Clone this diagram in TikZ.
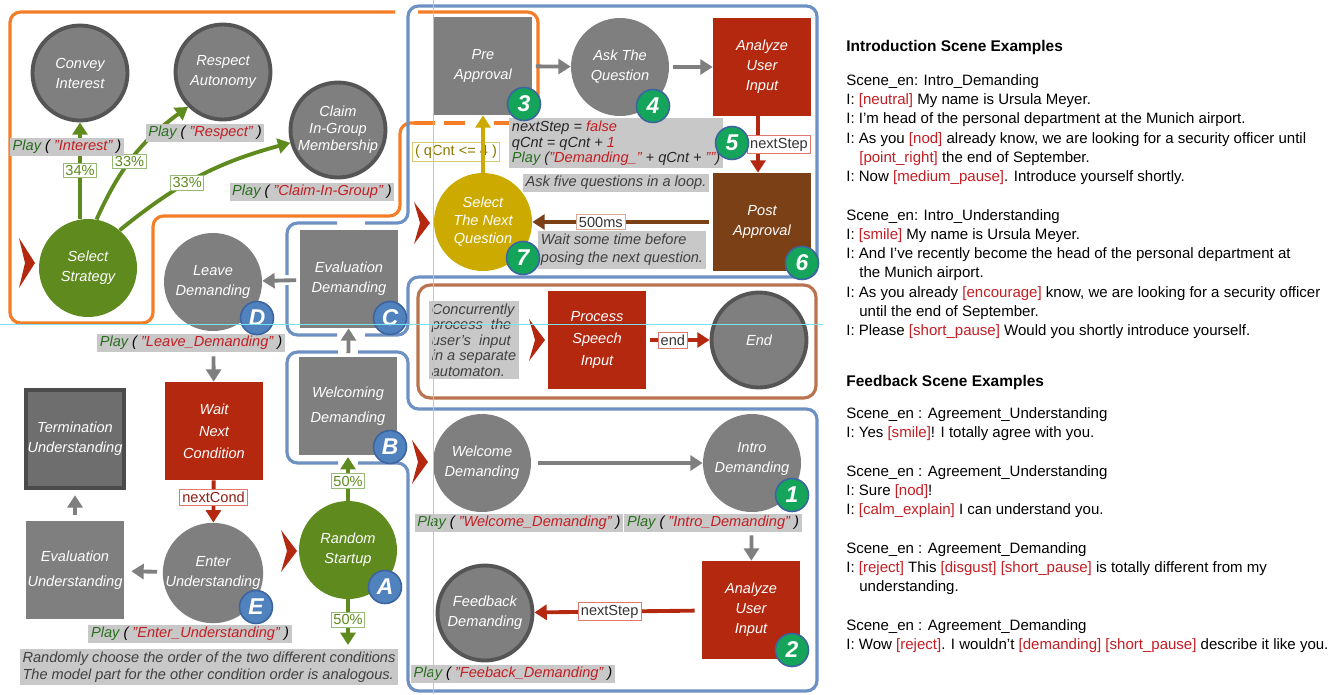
\documentclass[tikz,border=0pt]{standalone}
\usepackage{fontspec}
\setmainfont{Liberation Sans}
\usetikzlibrary{arrows.meta}

\definecolor{stgray}{RGB}{127,127,127}
\definecolor{stedge}{RGB}{85,85,85}
\definecolor{termgray}{RGB}{110,110,110}
\definecolor{termedge}{RGB}{75,75,75}
\definecolor{stred}{RGB}{180,40,15}
\definecolor{stbrown}{RGB}{124,64,22}
\definecolor{styellow}{RGB}{204,170,0}
\definecolor{stgreen}{RGB}{94,138,30}
\definecolor{frameorange}{RGB}{245,125,40}
\definecolor{frameblue}{RGB}{110,145,195}
\definecolor{framebrown}{RGB}{185,115,80}
\definecolor{badgeblue}{RGB}{80,130,190}
\definecolor{badgeedge}{RGB}{60,100,160}
\definecolor{badgegreen}{RGB}{20,165,90}
\definecolor{notegray}{RGB}{200,200,200}
\definecolor{notetext}{RGB}{64,64,64}
\definecolor{playgreen}{RGB}{40,110,30}
\definecolor{playred}{RGB}{195,30,35}
\definecolor{pctedge}{RGB}{150,185,120}
\definecolor{condedge}{RGB}{225,120,110}
\definecolor{condtext}{RGB}{140,30,20}
\definecolor{qcntedge}{RGB}{220,200,110}
\definecolor{qcnttext}{RGB}{140,120,0}
\definecolor{guidecyan}{RGB}{120,225,235}

\newcommand{\playlbl}[1]{\textcolor{playgreen}{Play} ( \textcolor{playred}{"#1"} )}
\newcommand{\cue}[1]{\textcolor{playred}{[#1]}}

\tikzset{
  sttext/.style={text=white, align=center, inner sep=0pt,
    font=\fontsize{8.3}{11.4}\selectfont\itshape},
  circstate/.style={sttext, circle, fill=stgray, minimum size=1.96cm},
  ringstate/.style={circstate, draw=stedge, line width=2.2pt, minimum size=1.9cm},
  boxstate/.style={sttext, rectangle, fill=stgray, minimum size=1.96cm},
  badge/.style={circle, fill=badgeblue, draw=badgeedge, line width=0.9pt,
    minimum size=0.66cm, inner sep=0pt, text=white,
    font=\fontsize{13}{13}\selectfont\bfseries\itshape},
  numbadge/.style={badge, fill=badgegreen},
  playtag/.style={fill=notegray, inner sep=1.5pt, font=\fontsize{8.3}{10}\selectfont\itshape},
  notebox/.style={fill=notegray, inner sep=1.5pt, text=notetext, align=left,
    font=\fontsize{8.3}{9.6}\selectfont\itshape},
  codebox/.style={fill=notegray, inner sep=1.5pt, text=black!85, align=left,
    font=\fontsize{8.3}{8.9}\selectfont\itshape},
  pct/.style={fill=white, draw=pctedge, line width=0.5pt, inner sep=1.2pt,
    font=\fontsize{8.3}{10}\selectfont},
  condlbl/.style={fill=white, draw=condedge, line width=0.5pt, inner sep=1.5pt,
    font=\fontsize{8.3}{10}\selectfont},
  flow/.style={line width=2.2pt, -{Triangle[length=7pt,width=8.5pt]}},
  zoomframe/.style={line width=1.8pt, rounded corners=6pt},
  guideline/.style={guidecyan, line width=0.4pt},
  panel/.style={anchor=north west, align=left, inner sep=0pt,
    font=\fontsize{8.55}{10.96}\selectfont},
  panelhead/.style={anchor=west, inner sep=0pt, font=\fontsize{8.8}{10.96}\selectfont\bfseries},
}

\begin{document}
\begin{tikzpicture}[x=0.02cm, y=-0.02cm]
  \useasboundingbox (0,0) rectangle (1341,694);
  \fill[white] (0,0) rectangle (1341,694);

  % Molduras
  \draw[zoomframe, frameorange] (395,12) -- (10,12) -- (10,323) -- (153,323) -- (153,216) -- (400,216) -- (400,123) -- (414,123);
  \draw[zoomframe, frameorange] (418,12) -- (538,12) -- (538,100);
  \draw[frameorange, line width=1.8pt, dash pattern=on 12pt off 5pt] (414,123) -- (472,123);
  \draw[frameorange, line width=1.8pt] (494,123) -- (518,123);
  \draw[zoomframe, frameblue] (365,223) -- (408,223) -- (408,6) -- (817,6) -- (817,277) -- (408,277) -- (408,335) -- (365,335);
  \draw[zoomframe, frameblue] (337,335) -- (287,335) -- (287,285);
  \draw[zoomframe, frameblue] (287,275) -- (287,223) -- (337,223);
  \draw[zoomframe, frameblue] (358,352) -- (408,352) -- (408,409) -- (817,409) -- (817,691) -- (408,691) -- (408,463) -- (358,463);
  \draw[zoomframe, frameblue] (338,463) -- (287,463) -- (287,352) -- (338,352);
  \draw[zoomframe, framebrown, rounded corners=7pt] (418,285) rectangle (816,398);

  % Nós
  \node[ringstate] (convey) at (80,73) {Convey\\Interest};
  \node[ringstate] (respect) at (223,72) {Respect\\Autonomy};
  \node[ringstate, font=\fontsize{8.3}{9.8}\selectfont\itshape] (claim) at (338,130) {Claim\\In-Group\\Membership};
  \node[circstate, fill=stgreen] (strategy) at (88,268) {Select\\Strategy};
  \node[circstate] (leave) at (213,282) {Leave\\Demanding};
  \node[boxstate] (evaldem) at (349,279) {Evaluation\\Demanding};
  \node[boxstate] (welcdem) at (348,406) {Welcoming\\[3pt]Demanding};
  \node[circstate, fill=stgreen] (random) at (348,550) {Random\\Startup};
  \node[boxstate, fill=stred] (waitnext) at (214,431) {Wait\\[1pt]Next\\[1pt]Condition};
  \node[circstate] (enterund) at (213,573) {Enter\\Understanding};
  \node[boxstate] (evalund) at (75,570) {Evaluation\\[3pt]Understanding};
  \node[boxstate, fill=termgray, draw=termedge, line width=2.5pt, minimum size=1.95cm] (termund) at (75,439) {Termination\\Understanding};

  \node[boxstate] (preappr) at (483,66) {Pre\\Approval};
  \node[circstate] (askq) at (620,67) {Ask The\\Question};
  \node[boxstate, fill=stred] (analyze) at (762,67) {Analyze\\User\\Input};
  \node[boxstate, fill=stbrown] (postappr) at (762,222) {Post\\Approval};
  \node[circstate, fill=styellow, font=\fontsize{8.3}{10.2}\selectfont\itshape] (selectq) at (483,222) {Select\\The Next\\Question};

  \node[boxstate, fill=stred] (procspeech) at (597,340) {Process\\[1pt]Speech\\[1pt]Input};
  \node[ringstate] (endst) at (759,340) {End};

  \node[circstate] (welcome) at (482,463) {Welcome\\Demanding};
  \node[circstate] (introdem) at (752,463) {Intro\\Demanding\\[-5pt]\mbox{}};
  \node[boxstate, fill=stred] (analyzeb) at (751,610) {Analyze\\User\\Input};
  \node[ringstate] (feedback) at (485,613) {Feedback\\Demanding};

  % Transições
  \draw[flow, stgreen] (strategy.north -| convey.south) -- node[pct, pos=0.5] {34\%} (convey.south);
  \draw[flow, stgreen] (strategy.80) to[bend left=15] node[pct, pos=0.45] {33\%} (respect.225);
  \draw[flow, stgreen] (strategy.50) to[bend left=12] node[pct, pos=0.42] {33\%} (claim.195);
  \draw[flow, stgray, shorten <=2pt] (evaldem) -- (leave);
  \draw[flow, stgray, shorten <=2pt] (welcdem) -- (evaldem);
  \draw[flow, stgreen, shorten >=1pt] (random) -- node[pct, pos=0.43] {50\%} (welcdem);
  \coordinate (randout) at (348,645);
  \draw[flow, stgreen] (random) -- node[pct, pos=0.45] {50\%} (randout);
  \draw[flow, stgray, shorten <=0.5cm] (leave) -- (waitnext);
  \draw[flow, stred] (waitnext) -- node[condlbl, text=condtext, pos=0.4] {nextCond} (enterund);
  \draw[flow, stgray, shorten <=3pt, shorten >=4pt] (enterund) -- (evalund);
  \draw[flow, stgray, shorten <=3pt, shorten >=3pt] (evalund) -- (termund);

  \draw[flow, stgray, shorten <=2pt] (preappr) -- (askq);
  \draw[flow, stgray, shorten <=2pt] (askq) -- (analyze);
  \draw[flow, stred] ([xshift=-0.08cm]analyze.south) -- node[condlbl, text=black!80, pos=0.5, xshift=0.42cm] {nextStep} ([xshift=-0.08cm]postappr.north);
  \draw[flow, stbrown, shorten <=2pt] (postappr) -- node[condlbl, draw=framebrown!60, text=black!80, pos=0.62] {500ms} (selectq);
  \node[condlbl, draw=qcntedge, text=qcnttext] (qcnt) at (456,152) {( qCnt <= 4 )};
  \draw[flow, styellow] (selectq) -- (preappr);

  \draw[flow, stred, shorten <=2pt] (procspeech) -- node[condlbl, text=black!80, pos=0.42] {end} (endst);

  \draw[flow, stgray, shorten <=4pt] (welcome) -- (introdem);
  \draw[flow, stgray, shorten <=0.46cm] (introdem) -- (analyzeb);
  \draw[flow, stred, shorten <=4pt] (analyzeb) -- node[condlbl, text=black!80, pos=0.55] {nextStep} (feedback);

  % Marcas de início
  \foreach \sx/\sy/\sh in {27/263/25, 422/223/21, 420/462/22, 537/340/21, 289/551/21}
    \fill[stred] (\sx,\sy) ++(-8,-\sh) -- ++(16,\sh) -- ++(-16,\sh) -- ++(6,-\sh) -- cycle;

  % Rótulos
  \node[playtag] (playint) at (67,147) {\playlbl{Interest}};
  \node[playtag] (playresp) at (205,133) {\playlbl{Respect}};
  \node[playtag] (playclaim) at (312,192) {\playlbl{Claim-In-Group}};
  \node[playtag] (playleave) at (191,343) {\playlbl{Leave\_Demanding}};
  \node[playtag] (playenter) at (190,634) {\playlbl{Enter\_Understanding}};
  \node[playtag] (playwelcome) at (519,523) {\playlbl{Welcome\_Demanding}};
  \node[playtag] (playintro) at (713,523) {\playlbl{Intro\_Demanding}};
  \node[playtag] (playfeed) at (513,674) {\playlbl{Feeback\_Demanding}};

  \node[codebox, anchor=north west] (code) at (509,118) {nextStep = \textcolor{playred}{false}\\qCnt = qCnt + \textcolor{playred}{1}\\\textcolor{playgreen}{Play} (\textcolor{playred}{"Demanding\_"} + qCnt + \textcolor{playred}{""})};
  \node[notebox] (loopnote) at (616,183) {Ask five questions in a loop.};
  \node[notebox, font=\fontsize{8.3}{10.4}\selectfont\itshape] (waitnote) at (622,250) {Wait some time before\\posing the next question.};
  \node[notebox, font=\fontsize{8.3}{8.8}\selectfont\itshape] (concnote) at (474,340) {Concurrently\\process~ the\\user's~ input\\in a separate\\automaton.};
  \node[notebox] (randnote) at (209,667) {Randomly choose the order of the two different conditions\\The model part for the other condition order is analogous.};

  % Marcadores
  \node[badge] (bA) at (385,587) {A};
  \node[badge] (bB) at (390,447) {B};
  \node[badge] (bC) at (390,318) {C};
  \node[badge] (bD) at (257,318) {D};
  \node[badge] (bE) at (256,607) {E};
  \node[numbadge] (b1) at (792,495) {1};
  \node[numbadge] (b2) at (792,650) {2};
  \node[numbadge] (b3) at (524,104) {3};
  \node[numbadge] (b4) at (653,106) {4};
  \node[numbadge] (b5) at (732,143) {5};
  \node[numbadge] (b6) at (802,263) {6};
  \node[numbadge] (b7) at (523,258) {7};

  % Guias
  \draw[guideline] (0,324) -- (823,324);
  \draw[guideline] (433,0) -- (433,694);

  % Exemplos
  \node[panelhead] (introhead) at (846,47) {Introduction Scene Examples};
  \node[panel] (introtxt) at (846,74) {Scene\_en: Intro\_Demanding\\
    I: \cue{neutral} My name is Ursula Meyer.\\
    I: I'm head of the personal department at the Munich airport.\\
    I: As you \cue{nod} already know, we are looking for a security officer until\\
    \hspace*{0.26cm}\cue{point\_right} the end of September.\\
    I: Now \cue{medium\_pause}. Introduce yourself shortly.\\[10.96pt]
    Scene\_en: Intro\_Understanding\\
    I: \cue{smile} My name is Ursula Meyer.\\
    I: And I've recently become the head of the personal department at\\
    \hspace*{0.26cm}the Munich airport.\\
    I: As you already \cue{encourage} know, we are looking for a security officer\\
    \hspace*{0.26cm}until the end of September.\\
    I: Please \cue{short\_pause} Would you shortly introduce yourself.};
  \node[panelhead] (feedhead) at (846,382) {Feedback Scene Examples};
  \node[panel] (feedtxt) at (846,407) {Scene\_en : Agreement\_Understanding\\
    I: Yes \cue{smile}! I totally agree with you.\\[10.96pt]
    Scene\_en : Agreement\_Understanding\\
    I: Sure \cue{nod}!\\
    I: \cue{calm\_explain} I can understand you.\\[10.96pt]
    Scene\_en : Agreement\_Demanding\\
    I: \cue{reject} This \cue{disgust} \cue{short\_pause} is totally different from my\\
    \hspace*{0.26cm}understanding.\\[10.96pt]
    Scene\_en : Agreement\_Demanding\\
    I: Wow \cue{reject}. I wouldn't \cue{demanding} \cue{short\_pause} describe it like you.};
\end{tikzpicture}
\end{document}
